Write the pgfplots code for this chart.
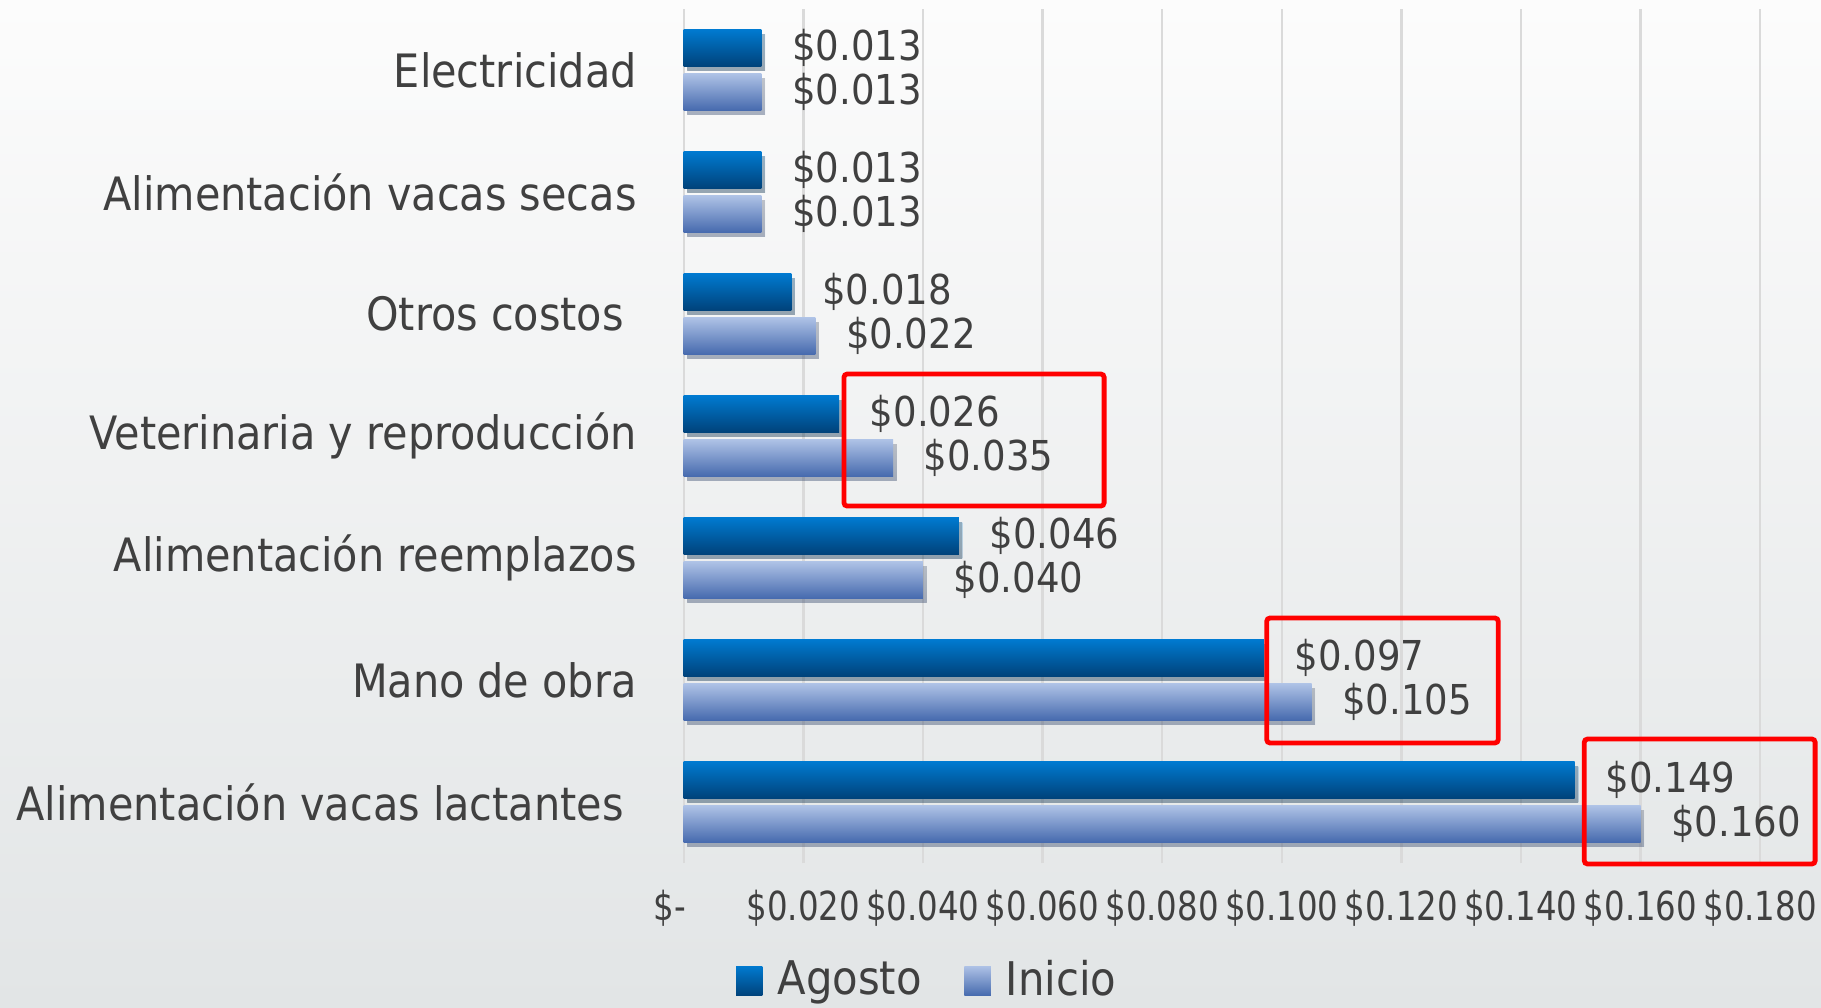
\documentclass[border=0pt]{standalone}
\usepackage{fontspec}
\setmainfont{DejaVu Sans Condensed}
\usepackage{graphicx}
\usepackage{pgfplots}
\pgfplotsset{compat=1.18}
\usetikzlibrary{shadows}
\definecolor{txt}{RGB}{64,64,64}
\definecolor{agtop}{RGB}{0,122,208}
\definecolor{agbot}{RGB}{0,66,122}
\definecolor{intop}{RGB}{174,194,230}
\definecolor{inbot}{RGB}{70,106,174}
\definecolor{gridc}{RGB}{218,218,218}
\definecolor{bgtop}{RGB}{252,252,252}
\definecolor{bgbot}{RGB}{226,229,230}
\definecolor{boxred}{RGB}{255,0,0}
\newcommand{\tl}[1]{\scalebox{0.9}[1]{#1}}
\pgfplotsset{
  barshadow/.style={drop shadow={shadow xshift=0.9pt, shadow yshift=-1.1pt, opacity=0.22, fill=black}},
  ag/.style={bar shift=5.5pt, draw=none, top color=agtop, bottom color=agbot, barshadow, forget plot},
  in/.style={bar shift=-5.5pt, draw=none, top color=intop, bottom color=inbot, barshadow, forget plot},
}
\begin{document}
\begin{tikzpicture}
\fill[top color=bgtop, bottom color=bgbot] (-170.43pt,-36pt) rectangle (284.82pt,215.75pt);
\begin{axis}[
  at={(0.5pt,0)}, anchor=south west,
  scale only axis, width=269.1pt, height=213.5pt,
  xbar, bar width=9.17pt, clip=false,
  xmin=0, xmax=0.18, ymin=-0.5, ymax=6.5,
  axis line style={draw=none},
  xtick={0,0.02,0.04,0.06,0.08,0.1,0.12,0.14,0.16,0.18},
  xticklabels={\tl{\$-\hspace*{7.6pt}},\tl{\$0.020},\tl{\$0.040},\tl{\$0.060},\tl{\$0.080},\tl{\$0.100},\tl{\$0.120},\tl{\$0.140},\tl{\$0.160},\tl{\$0.180}},
  ytick={0,1,2,3,4,5,6},
  yticklabels={Alimentación vacas lactantes\hspace*{3.2pt},Mano de obra,Alimentación reemplazos,Veterinaria y reproducción,Otros costos\hspace*{3.2pt},Alimentación vacas secas,Electricidad},
  tick style={draw=none},
  xmajorgrids, major grid style={gridc, line width=0.6pt},
  xticklabel style={font=\fontsize{10}{12}\selectfont, text=txt, anchor=center, inner sep=0pt},
  xticklabel shift=11.25pt,
  yticklabel style={font=\fontsize{11.5}{14}\selectfont, text=txt, anchor=east, inner sep=0pt},
  yticklabel shift=7.3pt,
  point meta=x,
  nodes near coords={\$\pgfmathprintnumber[fixed,fixed zerofill,precision=3,assume math mode=true]{\pgfplotspointmeta}},
  nodes near coords style={font=\fontsize{10.3}{12}\selectfont, text=txt, anchor=west, inner sep=0pt, xshift=7.5pt},
  legend style={at={(rel axis cs:0.229,-0.138)}, anchor=center, draw=none, fill=none,
    legend columns=2, font=\fontsize{11.6}{14}\selectfont, text=txt,
    /tikz/every even column/.append style={column sep=8.7pt},
    /tikz/every odd column/.append style={column sep=1.75pt}},
  legend image code/.code={\path[#1, draw=none] (0pt,-3.7pt) rectangle (6.6pt,3.7pt);},
]
\addlegendimage{top color=agtop, bottom color=agbot}
\addlegendentry{Agosto}
\addlegendimage{top color=intop, bottom color=inbot}
\addlegendentry{Inicio}
% Alimentacion vacas lactantes
\addplot[ag] coordinates {(0.149,0)};
\addplot[in] coordinates {(0.160,0)};
% Mano de obra
\addplot[ag] coordinates {(0.097,1)};
\addplot[in] coordinates {(0.105,1)};
% Alimentacion reemplazos
\addplot[ag] coordinates {(0.046,2)};
\addplot[in] coordinates {(0.040,2)};
% Veterinaria y reproduccion
\addplot[ag] coordinates {(0.026,3)};
\addplot[in] coordinates {(0.035,3)};
% Otros costos
\addplot[ag] coordinates {(0.018,4)};
\addplot[in] coordinates {(0.022,4)};
% Alimentacion vacas secas
\addplot[ag] coordinates {(0.013,5)};
\addplot[in] coordinates {(0.013,5)};
% Electricidad
\addplot[ag] coordinates {(0.013,6)};
\addplot[in] coordinates {(0.013,6)};
\draw[boxred, line width=1.2pt, rounded corners=0.8pt] (axis cs:0.0268,3.508) rectangle (axis cs:0.0703,2.426);
\draw[boxred, line width=1.2pt, rounded corners=0.8pt] (axis cs:0.0975,1.508) rectangle (axis cs:0.1362,0.484);
\draw[boxred, line width=1.2pt, rounded corners=0.8pt] (axis cs:0.1506,0.516) rectangle (axis cs:0.1892,-0.508);
\end{axis}
\pgfresetboundingbox
\useasboundingbox (-170.43pt,-36pt) rectangle (284.82pt,215.75pt);
\end{tikzpicture}
\end{document}
